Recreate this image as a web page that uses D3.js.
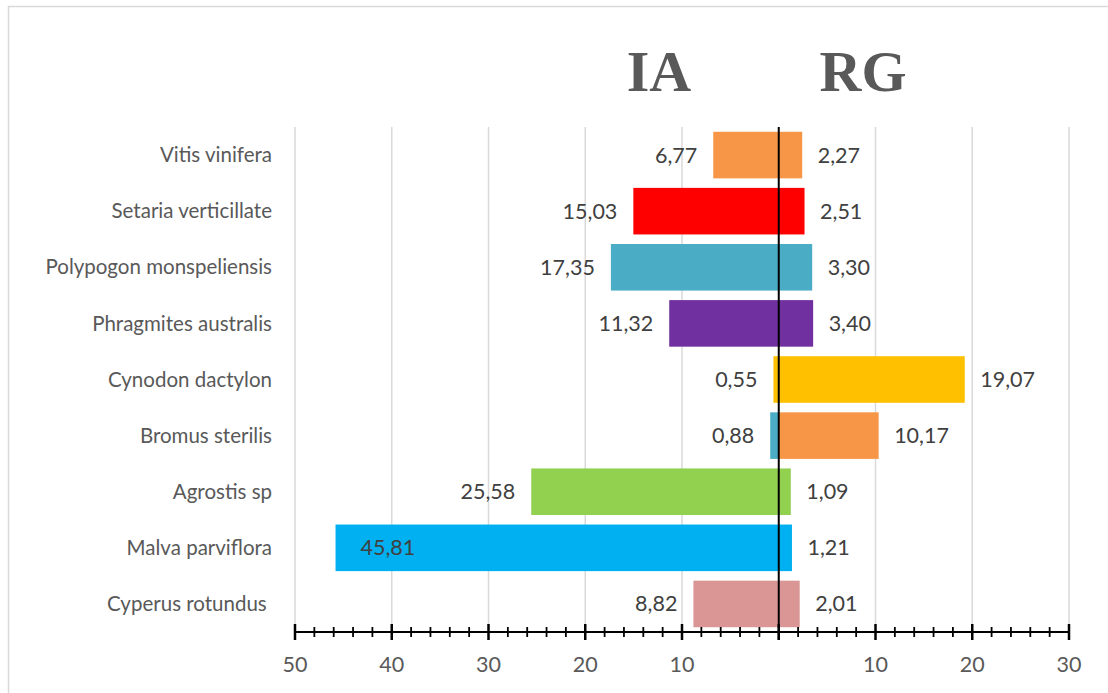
<!DOCTYPE html>
<html>
<head>
<meta charset="utf-8">
<script src="https://cdn.jsdelivr.net/npm/d3@7"></script>
<style>
	body { margin: 0; background: #fff; }
	svg { display: block; }
	.cat { font-family: Lato, 'Open Sans', sans-serif; font-size: 20.5px; fill: #595959; white-space: pre; }
	.val { font-family: Lato, 'Open Sans', sans-serif; font-size: 21.5px; fill: #404040; }
	.tick-label { font-family: Lato, 'Open Sans', sans-serif; font-size: 21.5px; fill: #595959; }
	.title { font-family: 'Liberation Serif', 'Times New Roman', serif; font-weight: bold; font-size: 58px; fill: #595959; }
</style>
</head>
<body>
<div id="chart"></div>
<script>

var categories = ['Vitis vinifera', 'Setaria verticillate', 'Polypogon monspeliensis', 'Phragmites australis', 'Cynodon dactylon', 'Bromus sterilis', 'Agrostis sp', 'Malva parviflora', 'Cyperus rotundus '];
var iaValues = [6.77, 15.03, 17.35, 11.32, 0.55, 0.88, 25.58, 45.81, 8.82];
var rgValues = [2.27, 2.51, 3.30, 3.40, 19.07, 10.17, 1.09, 1.21, 2.01];
var iaColors = ['#F79646', '#FF0000', '#4BACC6', '#7030A0', '#FFC000', '#4BACC6', '#92D050', '#00B0F0', '#DA9694'];
var rgColors = ['#F79646', '#FF0000', '#4BACC6', '#7030A0', '#FFC000', '#F79646', '#92D050', '#00B0F0', '#DA9694'];
var tickValues = [-50, -40, -30, -20, -10, 0, 10, 20, 30];
var minorTicks = d3.range(-50, 31, 2);

var width = 1108;
var height = 693;

var svg = d3.select('#chart').append('svg')
	.attr('width', width)
	.attr('height', height);

// chart border
svg.append('rect')
	.attr('x', 8.5).attr('y', 6.5)
	.attr('width', 1120).attr('height', 720)
	.style('fill', 'none')
	.style('stroke', '#d9d9d9')
	.style('stroke-width', 1.5);

var x = d3.scaleLinear().domain([-50, 30]).range([295, 1069]);
var y = d3.scaleBand().domain(categories).range([127, 632]).paddingInner(0.17).paddingOuter(0.085);

var fmt = function(v) { return v.toFixed(2).replace('.', ','); };

// grid lines
svg.append('g').selectAll('line')
	.data(tickValues.filter(function(d) { return d !== 0; }))
	.enter().append('line')
	.attr('x1', function(d) { return x(d); })
	.attr('x2', function(d) { return x(d); })
	.attr('y1', 127).attr('y2', 632)
	.style('stroke', '#d9d9d9')
	.style('stroke-width', 1.5);

// IA bars (left)
svg.append('g').selectAll('rect')
	.data(categories)
	.enter().append('rect')
	.attr('x', function(d, i) { return x(-iaValues[i]); })
	.attr('y', function(d) { return y(d); })
	.attr('width', function(d, i) { return x(0) - x(-iaValues[i]); })
	.attr('height', y.bandwidth())
	.style('fill', function(d, i) { return iaColors[i]; });

// RG bars (right)
svg.append('g').selectAll('rect')
	.data(categories)
	.enter().append('rect')
	.attr('x', x(0))
	.attr('y', function(d) { return y(d); })
	.attr('width', function(d, i) { return x(rgValues[i]) - x(0) + 1.5; })
	.attr('height', y.bandwidth())
	.style('fill', function(d, i) { return rgColors[i]; });

// category labels
svg.append('g').selectAll('text')
	.data(categories)
	.enter().append('text')
	.attr('class', 'cat')
	.attr('x', 272)
	.attr('y', function(d) { return y(d) + y.bandwidth() / 2; })
	.attr('dy', '0.35em')
	.attr('text-anchor', 'end')
	.text(function(d) { return d; });

// IA value labels
svg.append('g').selectAll('text')
	.data(categories)
	.enter().append('text')
	.attr('class', 'val')
	.attr('x', function(d, i) { return iaValues[i] > 40 ? x(-iaValues[i]) + 25 : x(-iaValues[i]) - 16; })
	.attr('y', function(d) { return y(d) + y.bandwidth() / 2; })
	.attr('dy', '0.35em')
	.attr('text-anchor', function(d, i) { return iaValues[i] > 40 ? 'start' : 'end'; })
	.text(function(d, i) { return fmt(iaValues[i]); });

// RG value labels
svg.append('g').selectAll('text')
	.data(categories)
	.enter().append('text')
	.attr('class', 'val')
	.attr('x', function(d, i) { return x(rgValues[i]) + 17; })
	.attr('y', function(d) { return y(d) + y.bandwidth() / 2; })
	.attr('dy', '0.35em')
	.text(function(d, i) { return fmt(rgValues[i]); });

// zero line
svg.append('line')
	.attr('x1', x(0)).attr('x2', x(0))
	.attr('y1', 127).attr('y2', 640)
	.style('stroke', '#000')
	.style('stroke-width', 2);

// bottom axis
var axisY = 632;
svg.append('line')
	.attr('x1', x(-50)).attr('x2', x(30))
	.attr('y1', axisY).attr('y2', axisY)
	.style('stroke', '#000')
	.style('stroke-width', 2);

svg.append('g').selectAll('line')
	.data(minorTicks)
	.enter().append('line')
	.attr('x1', function(d) { return x(d); })
	.attr('x2', function(d) { return x(d); })
	.attr('y1', function(d) { return d % 10 === 0 ? axisY - 8 : axisY - 5; })
	.attr('y2', function(d) { return d % 10 === 0 ? axisY + 8 : axisY + 5; })
	.style('stroke', '#000')
	.style('stroke-width', function(d) { return d % 10 === 0 ? 2.5 : 1.8; });

svg.append('g').selectAll('text')
	.data(tickValues.filter(function(d) { return d !== 0; }))
	.enter().append('text')
	.attr('class', 'tick-label')
	.attr('x', function(d) { return x(d); })
	.attr('y', 672)
	.attr('text-anchor', 'middle')
	.text(function(d) { return Math.abs(d); });

// titles
svg.append('text').attr('class', 'title')
	.attr('x', 659).attr('y', 91)
	.attr('text-anchor', 'middle')
	.text('IA');

svg.append('text').attr('class', 'title')
	.attr('x', 863).attr('y', 91)
	.attr('text-anchor', 'middle')
	.text('RG');

</script>
</body>
</html>
